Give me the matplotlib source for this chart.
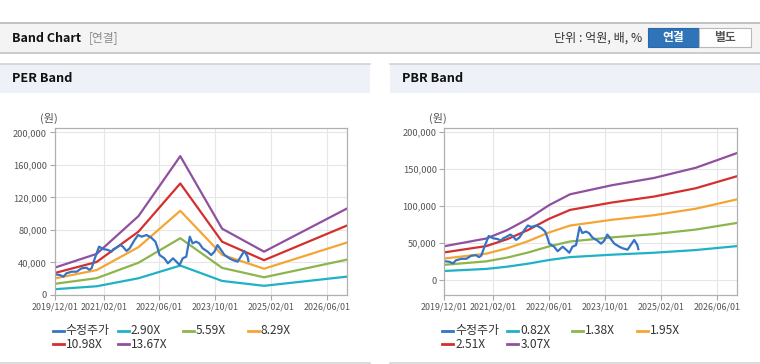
import matplotlib.pyplot as plt
import pandas as pd
from matplotlib.lines import Line2D
from matplotlib.patches import Rectangle
from matplotlib.ticker import FuncFormatter

plt.rcParams['font.family'] = ['Noto Sans CJK KR', 'DejaVu Sans']

# adjusted share price (same series on both charts)
price_dates = pd.to_datetime([
    "2019-12-01", "2020-01-15", "2020-02-15", "2020-03-12", "2020-04-28", "2020-06-10",
    "2020-07-22", "2020-09-03", "2020-09-28", "2020-10-18", "2020-11-15", "2020-12-22",
    "2021-01-28", "2021-03-10", "2021-04-10", "2021-04-25", "2021-05-22", "2021-06-28",
    "2021-07-18", "2021-08-18", "2021-09-15", "2021-10-28", "2021-11-28", "2021-12-28",
    "2022-02-10", "2022-03-22", "2022-04-28", "2022-05-18", "2022-06-03", "2022-07-15",
    "2022-08-15", "2022-09-28", "2022-10-28", "2022-11-25", "2022-12-22", "2023-01-22",
    "2023-02-22", "2023-03-18", "2023-04-18", "2023-05-15", "2023-06-15", "2023-07-28",
    "2023-08-28", "2023-09-25", "2023-10-22", "2023-11-22", "2023-12-22", "2024-02-03",
    "2024-03-01", "2024-04-15", "2024-05-12", "2024-06-12", "2024-07-10", "2024-07-18",
])
price = [
    25500, 24600, 22500, 26700, 28700, 28700,
    32800, 33600, 31000, 33000, 45100, 59500,
    56600, 55400, 53300, 56200, 58200, 61500,
    59500, 54200, 57400, 67700, 73800, 71800,
    73800, 70600, 65600, 57400, 49200, 45100,
    39000, 45100, 41000, 36900, 45100, 47200,
    71800, 63600, 65600, 63600, 57400, 53300,
    49200, 53300, 61500, 55400, 49200, 45100,
    43100, 41000, 47200, 54200, 47200, 41800,
]

# PER band
per_dates = pd.to_datetime(["2019-12-01", "2020-12-01", "2021-12-01", "2022-12-01",
                            "2023-12-01", "2024-12-01", "2026-12-01"])
per_labels = ["2.90X", "5.59X", "8.29X", "10.98X", "13.67X"]
per_290 = [7130, 10730, 20590, 36250, 17310, 11310, 22680]
per_559 = [13750, 20680, 39690, 69880, 33370, 21800, 43710]
per_829 = [20390, 30670, 58860, 103630, 49490, 32330, 64830]
per_1098 = [27010, 40630, 77960, 137250, 65550, 42820, 85860]
per_1367 = [33630, 50580, 97060, 170880, 81610, 53310, 106900]

# PBR band
pbr_dates = pd.to_datetime(["2019-12-01", "2020-12-01", "2021-06-01", "2021-12-01",
                            "2022-06-01", "2022-12-01", "2023-12-01", "2024-12-01",
                            "2025-12-01", "2026-12-01"])
pbr_labels = ["0.82X", "1.38X", "1.95X", "2.51X", "3.07X"]
pbr_082 = [12220, 15010, 18040, 22140, 27060, 31000, 34280, 36900, 40590, 46000]
pbr_138 = [20560, 25250, 30360, 37260, 45540, 52160, 57680, 62100, 68310, 77420]
pbr_195 = [29060, 35690, 42900, 52650, 64350, 73710, 81510, 87750, 96530, 109400]
pbr_251 = [37400, 45930, 55220, 67770, 82830, 94880, 104920, 112950, 124250, 140810]
pbr_307 = [45740, 56180, 67540, 82890, 101310, 116050, 128330, 138150, 151970, 172230]

xticks = pd.to_datetime(["2019-12-01", "2021-02-01", "2022-06-01",
                         "2023-10-01", "2025-02-01", "2026-06-01"])
xmin, xmax = pd.Timestamp("2019-12-01"), pd.Timestamp("2026-11-25")

price_color = "#3574c4"
band_colors = ["#1fb2c6", "#8db54e", "#f5a534", "#d42f2f", "#9050a0"]

W, H = 760, 364
fig = plt.figure(figsize=(7.6, 3.64), dpi=100)


def fx(x):
    return x / W


def fy(y):
    return 1 - y / H


def rect(x0, y0, x1, y1, fc, ec="none", lw=0):
    fig.add_artist(Rectangle((fx(x0), fy(y1)), fx(x1 - x0), (y1 - y0) / H,
                             transform=fig.transFigure, fc=fc, ec=ec, lw=lw))


def hline(x0, x1, y, color, lw=1):
    fig.add_artist(Line2D([fx(x0), fx(x1)], [fy(y), fy(y)],
                          transform=fig.transFigure, color=color, lw=lw))


# page header
rect(0, 22.5, 760, 53, "#f4f4f4")
hline(0, 760, 22.5, "#b8b8b8", 1.2)
hline(0, 760, 53, "#c4c4c4", 1.2)
fig.text(fx(12), fy(38), "Band Chart", fontsize=9, fontweight="bold",
         color="#111111", va="center")
fig.text(fx(89), fy(38), "[연결]", fontsize=8.5, color="#8a8a8a", va="center")
fig.text(fx(642), fy(38), "단위 : 억원, 배, %", fontsize=8.7, color="#333333",
         va="center", ha="right")
rect(648, 28, 699, 47, "#2f74b9", "#2a68a8", 0.8)
rect(699, 28, 751, 47, "#ffffff", "#b9b9b9", 0.8)
fig.text(fx(673.5), fy(37.5), "연결", fontsize=8.5, fontweight="bold",
         color="white", ha="center", va="center")
fig.text(fx(725), fy(37.5), "별도", fontsize=8.5, fontweight="bold",
         color="#555555", ha="center", va="center")


def panel(x0, x1, title, ax_left, ax_right, dates, bands, labels, ylim, yticks):
    rect(x0, 64, x1, 93, "#eef2f8")
    hline(x0, x1, 64, "#cfd3d8", 1.2)
    hline(x0, x1, 362.5, "#d6d6d6", 1.2)
    fig.text(fx(x0 + 12), fy(79), title, fontsize=9.2, fontweight="bold",
             color="#111111", va="center")

    ax = fig.add_axes([fx(ax_left), fy(295), fx(ax_right - ax_left), (295 - 128) / H])
    for vals, col in zip(bands, band_colors):
        ax.plot(dates, vals, color=col, lw=1.6, solid_joinstyle="round")
    ax.plot(price_dates, price, color=price_color, lw=1.6, solid_joinstyle="round")

    ax.set_xlim(xmin, xmax)
    ax.set_ylim(*ylim)
    ax.set_yticks(yticks)
    ax.yaxis.set_major_formatter(FuncFormatter(lambda v, p: f"{int(v):,}"))
    ax.set_xticks(xticks)
    ax.set_xticklabels([d.strftime("%Y/%m/%d") for d in xticks])
    ax.tick_params(axis="both", length=3.5, width=0.8, color="#a8a8a8",
                   labelcolor="#555555", pad=2)
    ax.tick_params(axis="y", labelsize=6.7)
    ax.tick_params(axis="x", labelsize=6.4)
    ax.grid(True, color="#e6e6e6", lw=0.8)
    ax.set_axisbelow(True)
    for s in ax.spines.values():
        s.set_color("#b0b0b0")
        s.set_linewidth(0.9)
    ax.set_facecolor("white")

    fig.text(fx(ax_left - 6), fy(118), "(원)", fontsize=8, color="#555555",
             ha="center", va="center")

    # legend, row-major, four columns
    names = ["수정주가"] + labels
    colors = [price_color] + band_colors
    for i, (name, col) in enumerate(zip(names, colors)):
        lx = ax_left - 2 + 65 * (i % 4)
        ly = 330.7 + 13.5 * (i // 4)
        fig.add_artist(Line2D([fx(lx), fx(lx + 11)], [fy(ly), fy(ly)],
                              transform=fig.transFigure, color=col, lw=2))
        fig.text(fx(lx + 13), fy(ly), name, fontsize=8.6, color="#333333",
                 va="center")
    return ax


panel(0, 370, "PER Band", 54.7, 347, per_dates,
      [per_290, per_559, per_829, per_1098, per_1367], per_labels,
      (0, 205500), range(0, 200001, 40000))
panel(390, 760, "PBR Band", 444.3, 737, pbr_dates,
      [pbr_082, pbr_138, pbr_195, pbr_251, pbr_307], pbr_labels,
      (-20300, 205800), range(0, 200001, 50000))

fig.savefig("out.png", dpi=100)
